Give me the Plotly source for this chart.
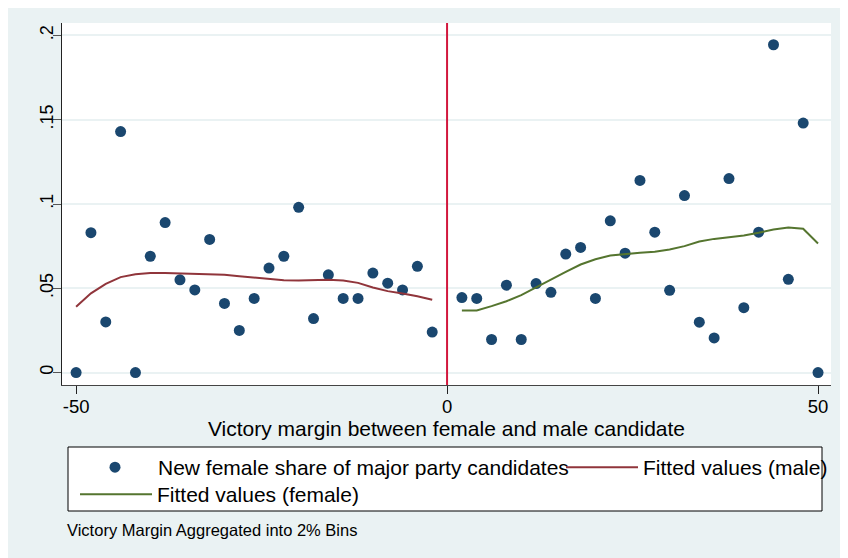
import plotly.graph_objects as go

# ---- data ----
bins_male = [-50, -48, -46, -44, -42, -40, -38, -36, -34, -32, -30, -28, -26,
             -24, -22, -20, -18, -16, -14, -12, -10, -8, -6, -4, -2]
share_male = [0.0, 0.083, 0.030, 0.143, 0.0, 0.069, 0.089, 0.055, 0.049, 0.079,
              0.041, 0.025, 0.044, 0.062, 0.069, 0.098, 0.032, 0.058, 0.044,
              0.044, 0.059, 0.053, 0.049, 0.063, 0.024]
fit_male = [0.039, 0.047, 0.0526, 0.0566, 0.0583, 0.059, 0.059, 0.0588, 0.0585,
            0.0583, 0.058, 0.0572, 0.0565, 0.0557, 0.0547, 0.0546, 0.0549,
            0.0551, 0.0546, 0.0532, 0.0505, 0.0483, 0.0469, 0.0453, 0.0432]

bins_female = [2, 4, 6, 8, 10, 12, 14, 16, 18, 20, 22, 24, 26, 28, 30, 32, 34,
               36, 38, 40, 42, 44, 46, 48, 50]
share_female = [0.0445, 0.044, 0.0196, 0.0518, 0.0196, 0.0528, 0.0476, 0.0703,
                0.0742, 0.044, 0.090, 0.0708, 0.114, 0.0833, 0.0488, 0.105,
                0.0299, 0.0205, 0.1151, 0.0385, 0.0833, 0.1945, 0.0553, 0.148, 0.0]
fit_female = [0.0368, 0.0368, 0.0394, 0.0423, 0.0459, 0.0506, 0.0552, 0.0597,
              0.0641, 0.0672, 0.0694, 0.0704, 0.071, 0.0716, 0.073, 0.075,
              0.0777, 0.0793, 0.0801, 0.0813, 0.0829, 0.0849, 0.0861, 0.0853, 0.0766]

x_ticks = [-50, 0, 50]
y_ticks = [0, 0.05, 0.1, 0.15, 0.2]
y_tick_labels = ["0", ".05", ".1", ".15", ".2"]

NAVY = "#1a476f"
MAROON = "#90353b"
GREEN = "#55752f"
BG = "#eaf2f3"
FONT = "Liberation Sans, Arial, sans-serif"

fig = go.Figure()
fig.add_trace(go.Scatter(
    x=bins_male + bins_female, y=share_male + share_female, mode="markers",
    marker=dict(color=NAVY, size=11),
    name="New female share of major party candidates", legend="legend"))
fig.add_trace(go.Scatter(
    x=bins_male, y=fit_male, mode="lines", line=dict(color=MAROON, width=2),
    name="Fitted values (male)", legend="legend2"))
fig.add_trace(go.Scatter(
    x=bins_female, y=fit_female, mode="lines", line=dict(color=GREEN, width=2),
    name="Fitted values (female)", legend="legend3"))

# page body has an 8px margin: figure coordinates = page coordinates - 8
OFF = 8
W, H = 840, 550
L, T = 62 - OFF, 23 - OFF
R = W - (831 - OFF)
B = H - (385 - OFF)
PW, PH = W - L - R, H - T - B

def px(xp):
    return (xp - OFF - L) / PW

def py(yp):
    return (H - B - (yp - OFF)) / PH

LEG_FONT = 21

fig.update_layout(
    width=W, height=H,
    margin=dict(l=L, r=R, t=T, b=B, autoexpand=False),
    paper_bgcolor=BG, plot_bgcolor="white",
    font=dict(family=FONT, color="#000000", size=18),
    showlegend=True,
    xaxis=dict(
        range=[-51.9, 51.75], tickvals=x_ticks, ticktext=[str(v) for v in x_ticks],
        showgrid=False, zeroline=False, showline=True, linecolor="#444444",
        linewidth=1, ticks="outside", ticklen=8, tickcolor="#222222",
        tickfont=dict(size=18.5), automargin=False, ticklabelstandoff=-3,
        title=dict(text="Victory margin between female and male candidate",
                   font=dict(size=21), standoff=0)),
    yaxis=dict(
        range=[-0.0074, 0.2074], tickvals=y_ticks, ticktext=y_tick_labels,
        tickangle=-90, showgrid=True, gridcolor=BG, gridwidth=1.5,
        zeroline=False, showline=True, linecolor="#222222", linewidth=1,
        ticks="outside", ticklen=8, tickcolor="#555555", tickfont=dict(size=18),
        automargin=False, ticklabelstandoff=-7),
    legend=dict(
        orientation="v", x=px(72), xanchor="left", y=py(447), yanchor="top",
        bgcolor="rgba(0,0,0,0)", borderwidth=0, itemwidth=76,
        font=dict(size=LEG_FONT)),
    legend2=dict(
        orientation="v", x=px(561), xanchor="left", y=py(447), yanchor="top",
        bgcolor="rgba(0,0,0,0)", borderwidth=0, itemwidth=72,
        font=dict(size=LEG_FONT)),
    legend3=dict(
        orientation="v", x=px(75), xanchor="left", y=py(474), yanchor="top",
        bgcolor="rgba(0,0,0,0)", borderwidth=0, itemwidth=72,
        font=dict(size=LEG_FONT)),
    shapes=[
        dict(type="line", xref="x", yref="paper", x0=0, x1=0, y0=0, y1=1,
             line=dict(color="#d2173d", width=2)),
        dict(type="rect", xref="paper", yref="paper",
             x0=px(68), x1=px(822), y0=py(511), y1=py(447),
             line=dict(color="#000000", width=1), fillcolor="white",
             layer="below"),
    ],
    annotations=[
        dict(text="Victory Margin Aggregated into 2% Bins", xref="paper",
             yref="paper", x=px(65), y=py(530), xanchor="left", yanchor="middle",
             showarrow=False, font=dict(size=16.5)),
    ],
)

fig.write_html("out.html")
